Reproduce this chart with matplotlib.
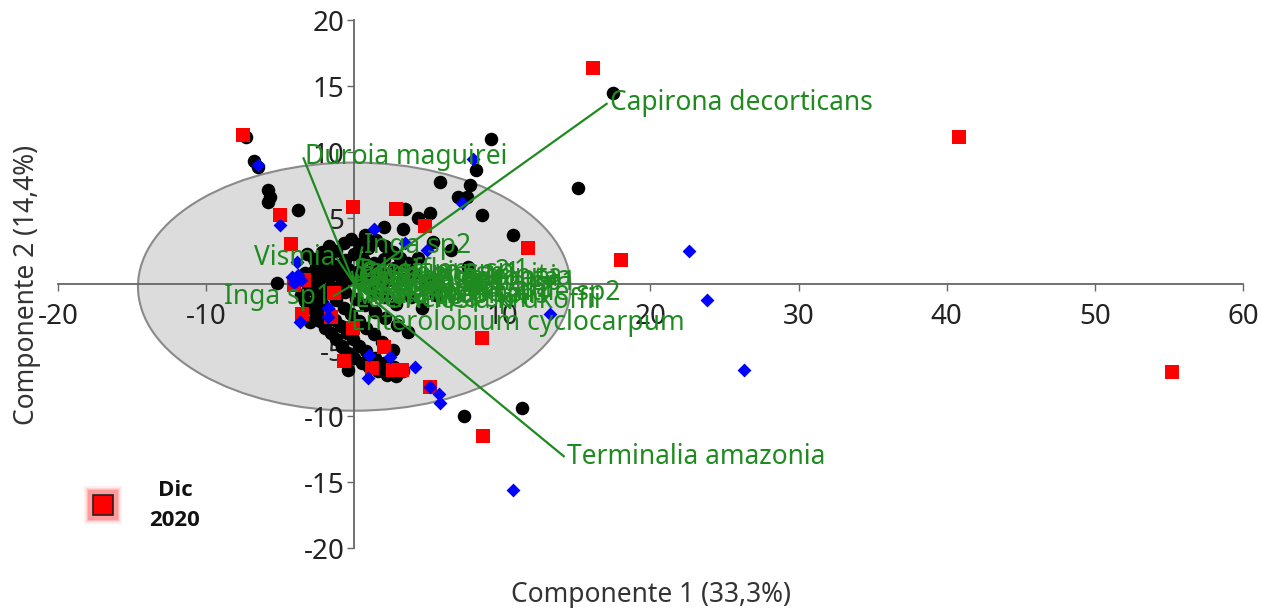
import matplotlib
matplotlib.use("Agg")
import matplotlib.pyplot as plt
from matplotlib.patches import Ellipse
from matplotlib.lines import Line2D

plt.rcParams['font.family'] = ['Noto Sans', 'DejaVu Sans']
plt.rcParams['axes.unicode_minus'] = False

# ---- PCA scores (Componente 1, Componente 2) ----
group_black = [
    (-7.3, 11.1), (-6.8, 9.3), (-6.5, 8.9), (-5.8, 7.1), (-5.7, 6.6), (-5.8, 6.2), (-3.8, 5.6),
    (9.2, 11.0), (17.5, 14.5), (15.1, 7.3), (5.8, 7.7), (8.2, 8.6), (7.8, 7.5), (7.6, 6.6),
    (7.0, 6.6), (8.6, 5.2), (10.7, 3.7), (5.1, 5.4), (3.4, 5.7), (4.3, 5.0), (3.3, 4.2),
    (2.0, 4.3), (0.7, 3.7), (5.3, 3.2), (6.5, 2.6), (7.7, 1.3), (7.4, -10.0), (11.3, -9.4),
    (-5.2, 0.1), (-3.0, -2.9), (-0.8, -4.8), (-0.4, -6.5),
    (-3.2, 2.3), (-2.7, 1.9), (-2.2, 2.4), (-1.7, 2.9), (-1.2, 2.5), (-0.7, 3.1), (-0.2, 3.4),
    (0.3, 3.0), (0.9, 2.7), (1.5, 3.3), (2.1, 2.9), (2.6, 2.4), (3.1, 2.0), (2.0, 1.9),
    (1.3, 1.6), (0.6, 1.9), (0.0, 2.3), (-0.6, 1.8), (-1.3, 1.4), (-2.0, 1.2), (-2.7, 1.0),
    (-3.3, 0.8), (-3.0, 0.2), (-2.4, 0.4), (-1.7, 0.5), (-1.0, 0.7), (-0.4, 1.1), (0.3, 1.0),
    (1.0, 0.9), (1.8, 0.8), (2.7, 1.2), (3.6, 1.6), (4.3, 2.0), (4.0, 0.8), (3.2, 0.4),
    (2.3, 0.3), (1.4, 0.2), (0.6, 0.3), (-0.2, 0.4), (-0.9, 0.0), (-1.6, -0.2), (-2.3, -0.3),
    (-3.1, -0.4), (-3.6, -0.8), (-2.6, 1.6), (-1.8, 1.9),
    (-3.3, -1.3), (-2.9, -1.8), (-2.6, -2.3), (-2.3, -2.8), (-2.0, -3.3), (-1.6, -3.7),
    (-1.2, -4.2), (-0.8, -4.7), (-0.4, -5.2), (0.0, -5.6), (0.5, -6.0), (1.0, -6.3),
    (1.6, -6.6), (2.2, -6.9), (2.8, -7.0),
    (-2.5, -1.0), (-2.1, -1.6), (-1.7, -2.1), (-1.3, -2.7), (-0.9, -3.2), (-0.5, -3.7),
    (-0.1, -4.2), (0.3, -4.7), (0.8, -5.1), (1.4, -5.6), (2.0, -6.0), (2.7, -6.3), (3.3, -6.6),
    (-1.8, -0.7), (-1.2, -1.2), (-0.7, -1.8), (-0.2, -2.3), (0.3, -2.8), (0.8, -3.3),
    (1.3, -3.8), (1.9, -4.4), (2.6, -5.0),
    (-0.6, -0.6), (0.1, -1.1), (0.7, -1.6), (1.4, -2.1), (2.1, -2.6), (2.9, -3.1), (3.6, -3.6),
    (1.2, -0.5), (2.0, -1.0), (2.8, -1.5), (3.8, -1.0), (4.6, -1.8), (5.5, -0.8), (4.8, 0.2),
]

group_blue = [
    (-6.5, 9.0), (-5.0, 4.5), (-3.85, 1.7), (-3.8, 0.7), (-4.1, 0.1), (-3.6, 0.3), (-4.2, 0.5),
    (-1.8, -1.8), (-1.75, -2.5), (-3.65, -2.9), (1.3, 4.2), (8.0, 9.5), (7.3, 6.1),
    (3.4, 3.1), (4.9, 2.6), (1.0, -5.4), (2.4, -5.5), (0.95, -7.1), (4.1, -6.3),
    (5.1, -7.8), (5.7, -8.3), (5.8, -9.0), (13.2, -2.3), (22.6, 2.5), (23.8, -1.2),
    (26.3, -6.5), (10.7, -15.6),
]

dic_2020 = [
    (-7.5, 11.3), (16.1, 16.4), (40.8, 11.1), (55.2, -6.7), (18.0, 1.8), (11.7, 2.7),
    (-5.0, 5.2), (-0.1, 5.8), (2.8, 5.7), (4.8, 4.4), (-4.3, 3.0), (-3.4, 0.3),
    (-4.1, -0.1), (-3.5, -2.3), (-1.6, -2.5), (-1.4, -0.7), (-0.1, -3.3), (2.0, -4.8),
    (-0.7, -5.8), (1.2, -6.4), (2.6, -6.5), (3.2, -6.5), (5.1, -7.8), (8.6, -4.1),
    (8.7, -11.5),
]

# ---- species loadings (biplot vectors) ----
species = [
    "Capirona decorticans", "Duroia maguirei", "Terminalia amazonia", "Inga sp2",
    "Vismia", "Inga sp1", "Enterolobium cyclocarpum", "Schefflera sp1",
    "Guazuma crinita", "Cedrela odorata", "Cavanillesia sp1", "Miconia sp1",
    "Ocotea sp1", "Brosimum utile sp2", "Nectandra sp1", "Lacmellea sp1",
    "Ormosia krukoffii", "Protium sp2", "Cecropia sp1", "Guarea sp1",
    "Pourouma sp2", "Virola sp1", "Jacaranda copaia", "Hura crepitans",
]
load_x = [17.1, -3.45, 14.2, 0.55, -1.2, -1.45, -0.35, -0.15,
          0.15, 0.1, 1.6, 0.1, 0.2, 1.5, 0.05, -0.1, 1.9, 0.15,
          0.25, 0.4, 0.9, 0.05, 0.3, 0.6]
load_y = [13.7, 9.6, -13.1, 2.85, 2.0, -0.95, -2.95, 1.0,
          0.6, 0.35, 0.05, 0.2, -0.3, -0.65, -0.8, -1.2, -1.25, 0.9,
          0.75, -0.1, -0.45, -1.0, 0.45, -0.9]

right_aligned = {"Vismia", "Inga sp1"}

GREEN = '#1f8a1f'

fig = plt.figure(figsize=(12.63, 6.08), dpi=100)
ax = fig.add_axes([0.04592, 0.09868, 0.93824, 0.86842])
ax.set_xlim(-20, 60)
ax.set_ylim(-20, 20)

ax.add_patch(Ellipse((0, -0.2), width=29.2, height=18.8, facecolor='#dcdcdc',
                     edgecolor='#8a8a8a', linewidth=1.5, zorder=0.5))

for side in ('top', 'right'):
    ax.spines[side].set_visible(False)
for side in ('left', 'bottom'):
    ax.spines[side].set_position(('data', 0))
    ax.spines[side].set_color('#666666')
    ax.spines[side].set_linewidth(1.3)

ax.set_xticks([-20, -10, 10, 20, 30, 40, 50, 60])
ax.set_yticks([-20, -15, -10, -5, 5, 10, 15, 20])
ax.tick_params(direction='out', length=5, width=1, color='#666666',
               labelsize=20, labelcolor='#222222')
ax.tick_params(axis='x', pad=9)
ax.tick_params(axis='y', pad=2)

bx, by = zip(*group_black)
ax.scatter(bx, by, s=95, marker='o', color='black', linewidths=0, zorder=3)
rx, ry = zip(*dic_2020)
ax.scatter(rx, ry, s=95, marker='s', color='#ff0000', linewidths=0, zorder=3.1)
ux, uy = zip(*group_blue)
ax.scatter(ux, uy, s=50, marker='D', color='#0000ff', linewidths=0, zorder=3.2)

for name, x, y in zip(species, load_x, load_y):
    ax.plot([0, x], [0, y], color=GREEN, linewidth=1.6, zorder=4,
            solid_capstyle='butt')
    if name in right_aligned:
        ha, dx = 'right', -1
    else:
        ha, dx = 'left', 1.5
    ax.annotate(name, (x, y), xytext=(dx, 0), textcoords='offset points',
                ha=ha, va='center', color=GREEN, fontsize=19, zorder=5)

# axis titles
fig.text(651 / 1263, 1 - 595 / 608, 'Componente 1 (33,3%)', ha='center', va='center',
         fontsize=19, color='#333333')
fig.text(27 / 1263, 1 - 285 / 608, 'Componente 2 (14,4%)', ha='center', va='center',
         rotation=90, fontsize=19, color='#333333')

# legend entry with soft glow
mx, my = 103 / 1263, 1 - 505 / 608
for size, alpha in [(27, 0.10), (25, 0.14), (23, 0.2), (21, 0.3)]:
    fig.add_artist(Line2D([mx], [my], marker='s', markersize=size, linestyle='none',
                          color='#ff5050', alpha=alpha, markeredgewidth=0,
                          transform=fig.transFigure))
fig.add_artist(Line2D([mx], [my], marker='s', markersize=15, linestyle='none',
                      markerfacecolor='#ff0000', markeredgecolor='#222222',
                      markeredgewidth=1.2, transform=fig.transFigure))
for txt, ypix in [('Dic', 490), ('2020', 521)]:
    fig.text(175 / 1263, 1 - ypix / 608, txt, ha='center', va='center',
             fontsize=16, fontweight='bold', color='#111111',
             family=['Open Sans', 'DejaVu Sans'])

fig.savefig('out.png', dpi=100)
